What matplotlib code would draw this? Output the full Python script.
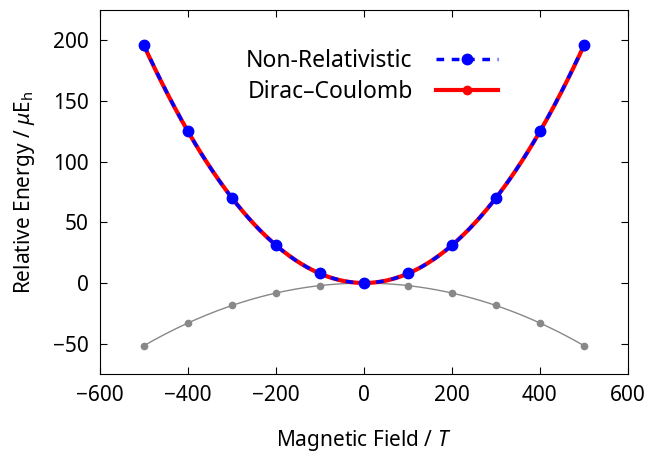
import numpy as np
from matplotlib import pyplot as plt

field = [-500, -400, -300, -200, -100, 0, 100, 200, 300, 400, 500]
non_rel = [196, 125, 70, 31, 8, 0, 8, 31, 70, 125, 196]
dirac = [195.5, 125, 70, 31, 8, 0, 8, 31, 70, 125, 195.5]
gray = [-51.5, -33, -18.3, -8.3, -2.1, 0, -2.1, -8.3, -18.3, -33, -51.5]


def smooth(x, y):
    # smooth curve through the points, like gnuplot's "smooth csplines"
    coef = np.polyfit(x, y, 4)
    xs = np.linspace(min(x), max(x), 300)
    return xs, np.polyval(coef, xs)


def main():
    plt.rcParams['font.family'] = ['Noto Sans', 'DejaVu Sans']
    plt.rcParams['font.size'] = 15
    plt.rcParams['mathtext.fontset'] = 'custom'
    plt.rcParams['mathtext.it'] = 'Noto Sans:italic'
    plt.rcParams['mathtext.rm'] = 'Noto Sans'

    fig = plt.figure(figsize=(6.54, 4.54), dpi=100)
    ax = fig.add_axes([0.153, 0.176, 0.807, 0.802])

    xs, ys = smooth(field, gray)
    ax.plot(xs, ys, color='#888888', lw=1)
    ax.plot(field, gray, 'o', color='#888888', ms=4.5)

    xs, ys = smooth(field, dirac)
    ax.plot(xs, ys, color='red', lw=3)
    ax.plot(field, dirac, 'o', color='red', ms=6)
    ax.plot([], [], '-o', color='red', lw=3, ms=6, label='Dirac–Coulomb')

    xs, ys = smooth(field, non_rel)
    ax.plot(xs, ys, color='blue', lw=2.5, ls=(0, (2.2, 2.2)))
    ax.plot(field, non_rel, 'o', color='blue', ms=7.5)
    ax.plot([], [], 'o', color='blue', ls=(0, (2.2, 2.2)), lw=2.5, ms=7.5,
            label='Non-Relativistic')

    handles, labels = ax.get_legend_handles_labels()
    ax.legend(handles[::-1], labels[::-1], loc='upper center',
              bbox_to_anchor=(0.515, 0.95), frameon=False, markerfirst=False,
              fontsize=16.5, handlelength=2.7, labelspacing=0.3,
              handletextpad=1.0)

    ax.set_xlim(-600, 600)
    ax.set_ylim(-75, 225)
    ax.set_xticks(range(-600, 601, 200))
    ax.set_yticks(range(-50, 201, 50))
    ax.tick_params(direction='in', top=True, right=True, length=5, pad=8)
    ax.set_xticklabels([str(v).replace('-', '−') for v in range(-600, 601, 200)])
    ax.set_yticklabels([str(v).replace('-', '−') for v in range(-50, 201, 50)])
    ax.set_xlabel('Magnetic Field / $\\mathit{T}$', labelpad=16)
    ax.set_ylabel('Relative Energy / $\\mathit{\\mu}$E$_\\mathrm{h}$', labelpad=12)

    fig.savefig('out.png', dpi=100)


if __name__ == '__main__':
    main()
